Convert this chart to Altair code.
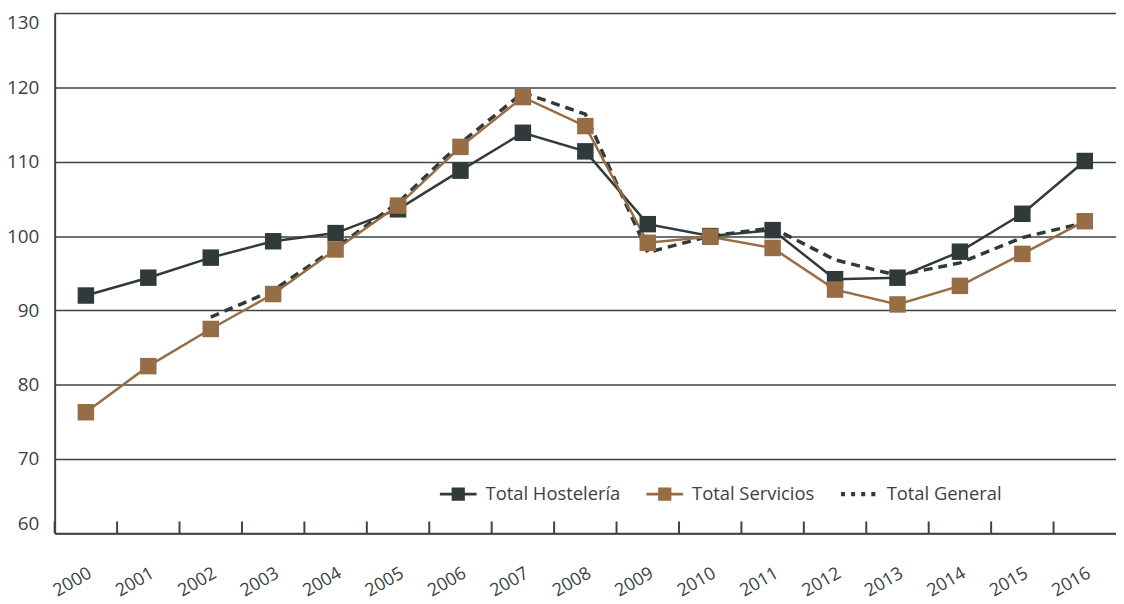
import altair as alt
import pandas as pd

years = list(range(2000, 2017))
hosteleria = [92.0, 94.4, 97.1, 99.3, 100.4, 103.6, 108.8, 113.9, 111.4, 101.6, 100.0, 100.8, 94.2, 94.4, 97.9, 103.0, 110.1]
servicios = [76.3, 82.5, 87.5, 92.2, 98.2, 104.1, 112.0, 118.7, 114.8, 99.1, 99.9, 98.4, 92.8, 90.8, 93.3, 97.6, 102.0]
general = [None, None, 89.1, 92.7, 98.4, 104.5, 112.5, 119.3, 116.4, 97.8, 100.0, 101.1, 96.8, 94.7, 96.4, 99.8, 101.8]

series_names = ["Total Hostelería", "Total Servicios", "Total General"]
series_colors = ["#313a3a", "#976d46", "#313a3a"]
y_ticks = [60, 70, 80, 90, 100, 110, 120, 130]

rows = []
for name, vals in zip(series_names, [hosteleria, servicios, general]):
    for yr, v in zip(years, vals):
        if v is not None:
            rows.append({"year": yr, "value": v, "series": name})
df = pd.DataFrame(rows)
ticks_df = pd.DataFrame({"year": years})

TEXT = "#3a4343"
GRID = "#3c4545"
FONT = "Open Sans"

x_scale = alt.Scale(type="band", paddingInner=0, paddingOuter=0, domain=years)
x_axis = alt.Axis(
    title=None, grid=False, ticks=False,
    labelAngle=-30, labelAlign="right", labelBaseline="top",
    labelPadding=31, labelOffset=0, labelFontSize=18, labelColor=TEXT,
    labelFont=FONT, domainColor=GRID, domainWidth=2,
)
x_enc = alt.X("year:O", scale=x_scale, axis=x_axis)
y_enc = alt.Y(
    "value:Q",
    scale=alt.Scale(domain=[60, 130], nice=False, zero=False),
    axis=alt.Axis(
        values=y_ticks, title=None, grid=True, gridColor=GRID, gridWidth=1.5,
        tickSize=0, labelPadding=16, labelFontSize=19, labelColor=TEXT,
        labelFont=FONT, labelFlush=True, domainColor=GRID, domainWidth=2,
    ),
)

# colour scale for the drawn marks (only the two series with markers)
mark_color_scale = alt.Scale(domain=series_names[:2], range=series_colors[:2])

# inward tick marks at category boundaries (Excel style)
tick_marks = alt.Chart(ticks_df).mark_rule(color=GRID, strokeWidth=2).encode(
    x=alt.X("year:O", scale=x_scale, axis=x_axis, bandPosition=0),
    y=alt.datum(60),
    y2=alt.datum(61.6),
)

gen_line = alt.Chart(df).transform_filter(
    alt.datum.series == "Total General"
).mark_line(strokeDash=[9, 6], strokeWidth=3.5, color="#313a3a").encode(
    x=x_enc, y=y_enc
)

solid_lines = alt.Chart(df).transform_filter(
    alt.datum.series != "Total General"
).mark_line(strokeWidth=2.5).encode(
    x=x_enc, y=y_enc,
    color=alt.Color("series:N", scale=mark_color_scale, legend=None),
    detail="series:N",
)

squares = alt.Chart(df).transform_filter(
    alt.datum.series != "Total General"
).mark_square(size=275, filled=True, opacity=1).encode(
    x=x_enc, y=y_enc,
    color=alt.Color("series:N", scale=mark_color_scale, legend=None),
)

sym_line_square = "M-1,-0.08H1V0.08H-1Z M-0.36,-0.36H0.36V0.36H-0.36Z"
sym_dashes = ("M-1,-0.11H-0.78V0.11H-1Z M-0.45,-0.11H-0.23V0.11H-0.45Z "
              "M0.1,-0.11H0.32V0.11H0.1Z M0.65,-0.11H0.87V0.11H0.65Z")


def make_legend():
    return alt.Legend(
        title=None, orient="none", legendX=388, legendY=466,
        direction="horizontal", symbolSize=1369, symbolOpacity=1,
        symbolStrokeWidth=0, labelFontSize=18.5, labelColor=TEXT,
        labelFont=FONT, columnPadding=26, labelOffset=9, padding=0,
    )


legend_layer = alt.Chart(df).mark_point(filled=True, size=0).encode(
    x=x_enc, y=y_enc,
    fill=alt.Fill(
        "series:N",
        scale=alt.Scale(domain=series_names, range=series_colors),
        legend=make_legend(),
    ),
    shape=alt.Shape(
        "series:N",
        scale=alt.Scale(domain=series_names,
                        range=[sym_line_square, sym_line_square, sym_dashes]),
        legend=make_legend(),
    ),
)

chart = alt.layer(tick_marks, gen_line, solid_lines, squares, legend_layer).properties(
    width=1069, height=524,
    autosize=alt.AutoSizeParams(type="none"),
    padding={"left": 47, "top": 3, "right": 0, "bottom": 68},
).configure_view(stroke=None).configure(background="white")

chart.save("out.html", embed_options={"renderer": "svg", "actions": False})
